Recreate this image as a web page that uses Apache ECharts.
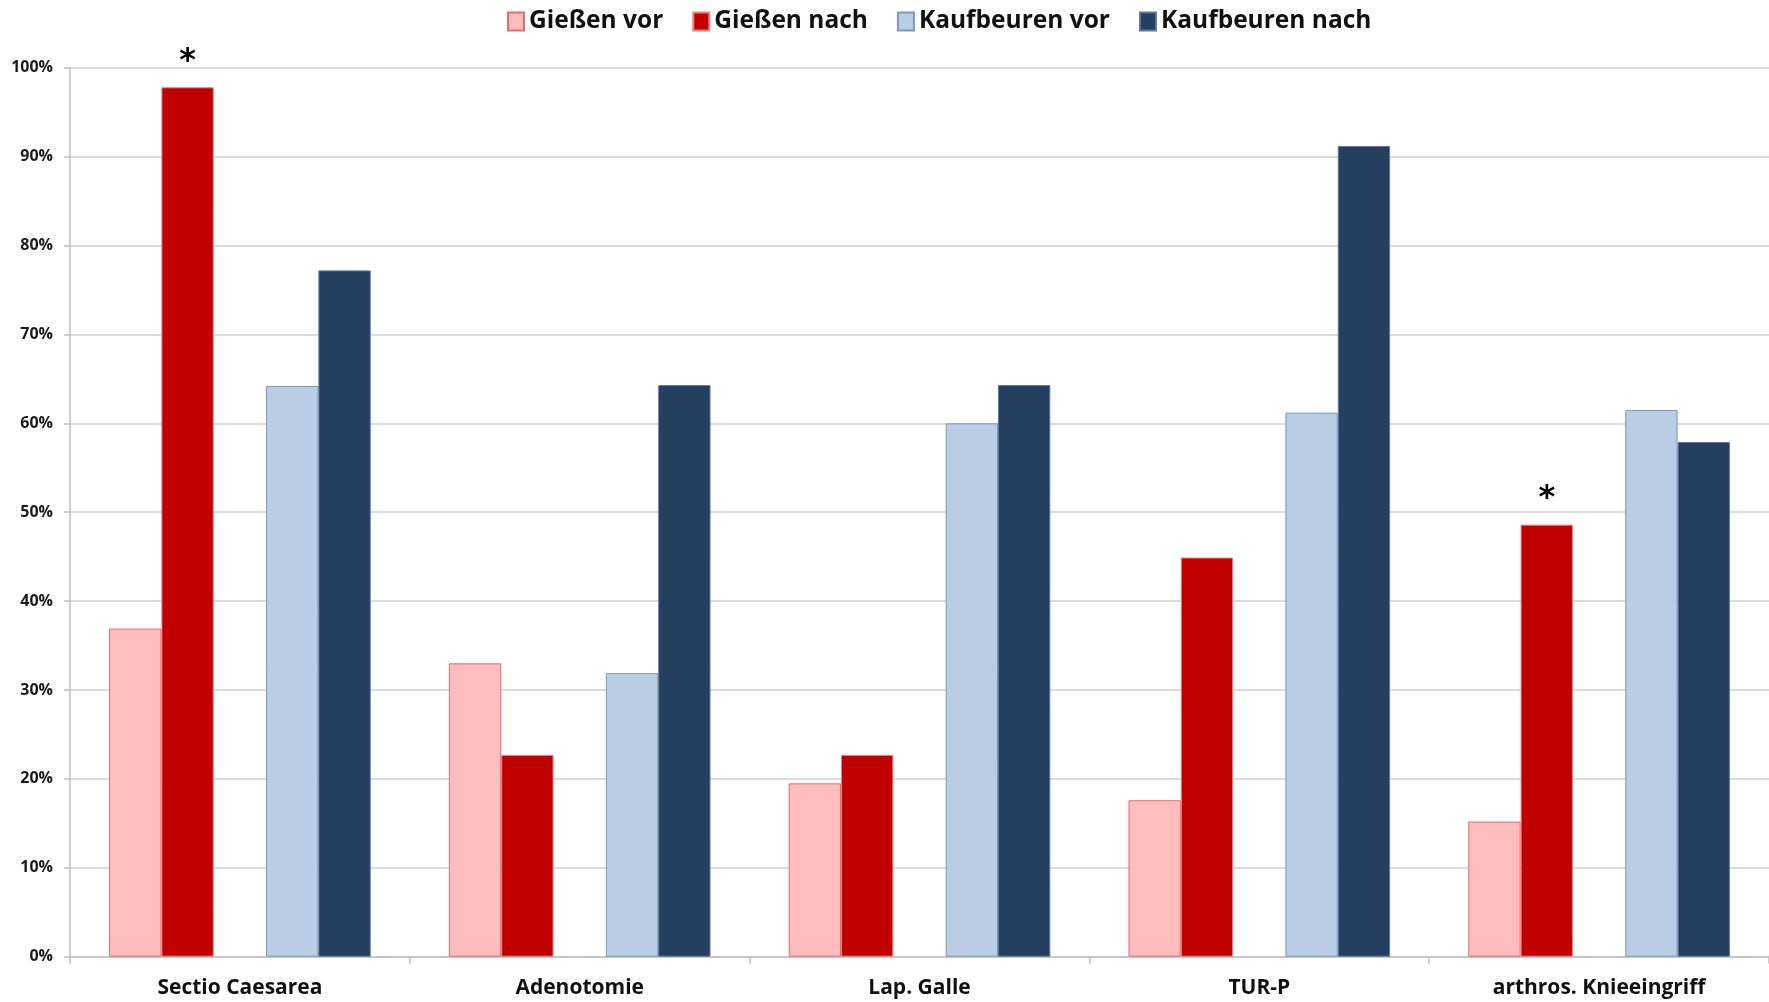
<!DOCTYPE html>
<html>
<head>
<meta charset="utf-8">
<script src="https://cdn.jsdelivr.net/npm/echarts@6/dist/echarts.min.js"></script>
<style>
html,body{margin:0;padding:0;background:#fff;}
#chart{width:1769px;height:1002px;}
</style>
</head>
<body>
<div id="chart"></div>
<script>
const categories = ['Sectio Caesarea', 'Adenotomie', 'Lap. Galle', 'TUR-P', 'arthros. Knieeingriff'];
const seriesNames = ['Gießen vor', 'Gießen nach', 'Kaufbeuren vor', 'Kaufbeuren nach'];
const giessenVor = [36.9, 33.0, 19.5, 17.6, 15.2];
const giessenNach = [97.8, 22.7, 22.7, 44.9, 48.6];
const kaufbeurenVor = [64.2, 31.9, 60.0, 61.2, 61.5];
const kaufbeurenNach = [77.2, 64.3, 64.3, 91.2, 57.9];
const giessenNachMarks = ['*', '', '', '', '*'];
const gapValues = [null, null, null, null, null];
const yTicks = [0, 10, 20, 30, 40, 50, 60, 70, 80, 90, 100];

const FONT = 'Open Sans';
const chart = echarts.init(document.getElementById('chart'), null, {renderer: 'canvas'});

function bar(name, data, fill, border, extra) {
  return Object.assign({
    name: name,
    type: 'bar',
    data: data,
    barGap: '0%',
    barCategoryGap: '23%',
    itemStyle: {color: fill, borderColor: border, borderWidth: 1},
    emphasis: {disabled: true}
  }, extra || {});
}

const option = {
  animation: false,
  backgroundColor: '#ffffff',
  textStyle: {fontFamily: FONT},
  legend: {
    data: seriesNames,
    top: 4,
    left: 502,
    itemWidth: 16,
    itemHeight: 18,
    itemGap: 29,
    icon: 'rect',
    textStyle: {fontFamily: FONT, fontWeight: 'bold', fontSize: 24.5, color: '#111'},
    selectedMode: false
  },
  grid: {left: 70, right: 0, top: 67.7, bottom: 45.3, containLabel: false},
  xAxis: {
    type: 'category',
    data: categories,
    axisLine: {lineStyle: {color: '#BFBFBF', width: 1.5}},
    axisTick: {show: true, length: 7, lineStyle: {color: '#BFBFBF', width: 1.5}},
    axisLabel: {fontFamily: FONT, fontWeight: 'bold', fontSize: 21, color: '#111', margin: 21, interval: 0},
    splitLine: {show: false}
  },
  yAxis: {
    type: 'value',
    min: yTicks[0],
    max: yTicks[yTicks.length - 1],
    interval: 10,
    axisLine: {show: true, lineStyle: {color: '#BFBFBF', width: 1.5}},
    axisTick: {show: true, length: 6, lineStyle: {color: '#BFBFBF', width: 1.5}},
    axisLabel: {fontFamily: FONT, fontWeight: 'bold', fontSize: 16, color: '#1a1a1a', margin: 17, formatter: '{value}%'},
    splitLine: {show: true, lineStyle: {color: '#D0D0D0', width: 1.5}}
  },
  series: [
    bar(seriesNames[0], giessenVor, '#FFBDBD', '#E8696E'),
    bar(seriesNames[1], giessenNach.map((v, i) => ({
      value: v,
      label: {show: giessenNachMarks[i] !== '', formatter: giessenNachMarks[i]}
    })), '#C00000', '#F08080', {
      label: {position: 'top', distance: 10, color: '#000', fontSize: 32, fontFamily: 'DejaVu Sans', fontWeight: 'bold'}
    }),
    bar('gap', gapValues, 'rgba(0,0,0,0)', 'rgba(0,0,0,0)'),
    bar(seriesNames[2], kaufbeurenVor, '#B9CDE5', '#7D97B9'),
    bar(seriesNames[3], kaufbeurenNach, '#243F60', '#5E7899')
  ]
};
chart.setOption(option);
</script>
</body>
</html>
